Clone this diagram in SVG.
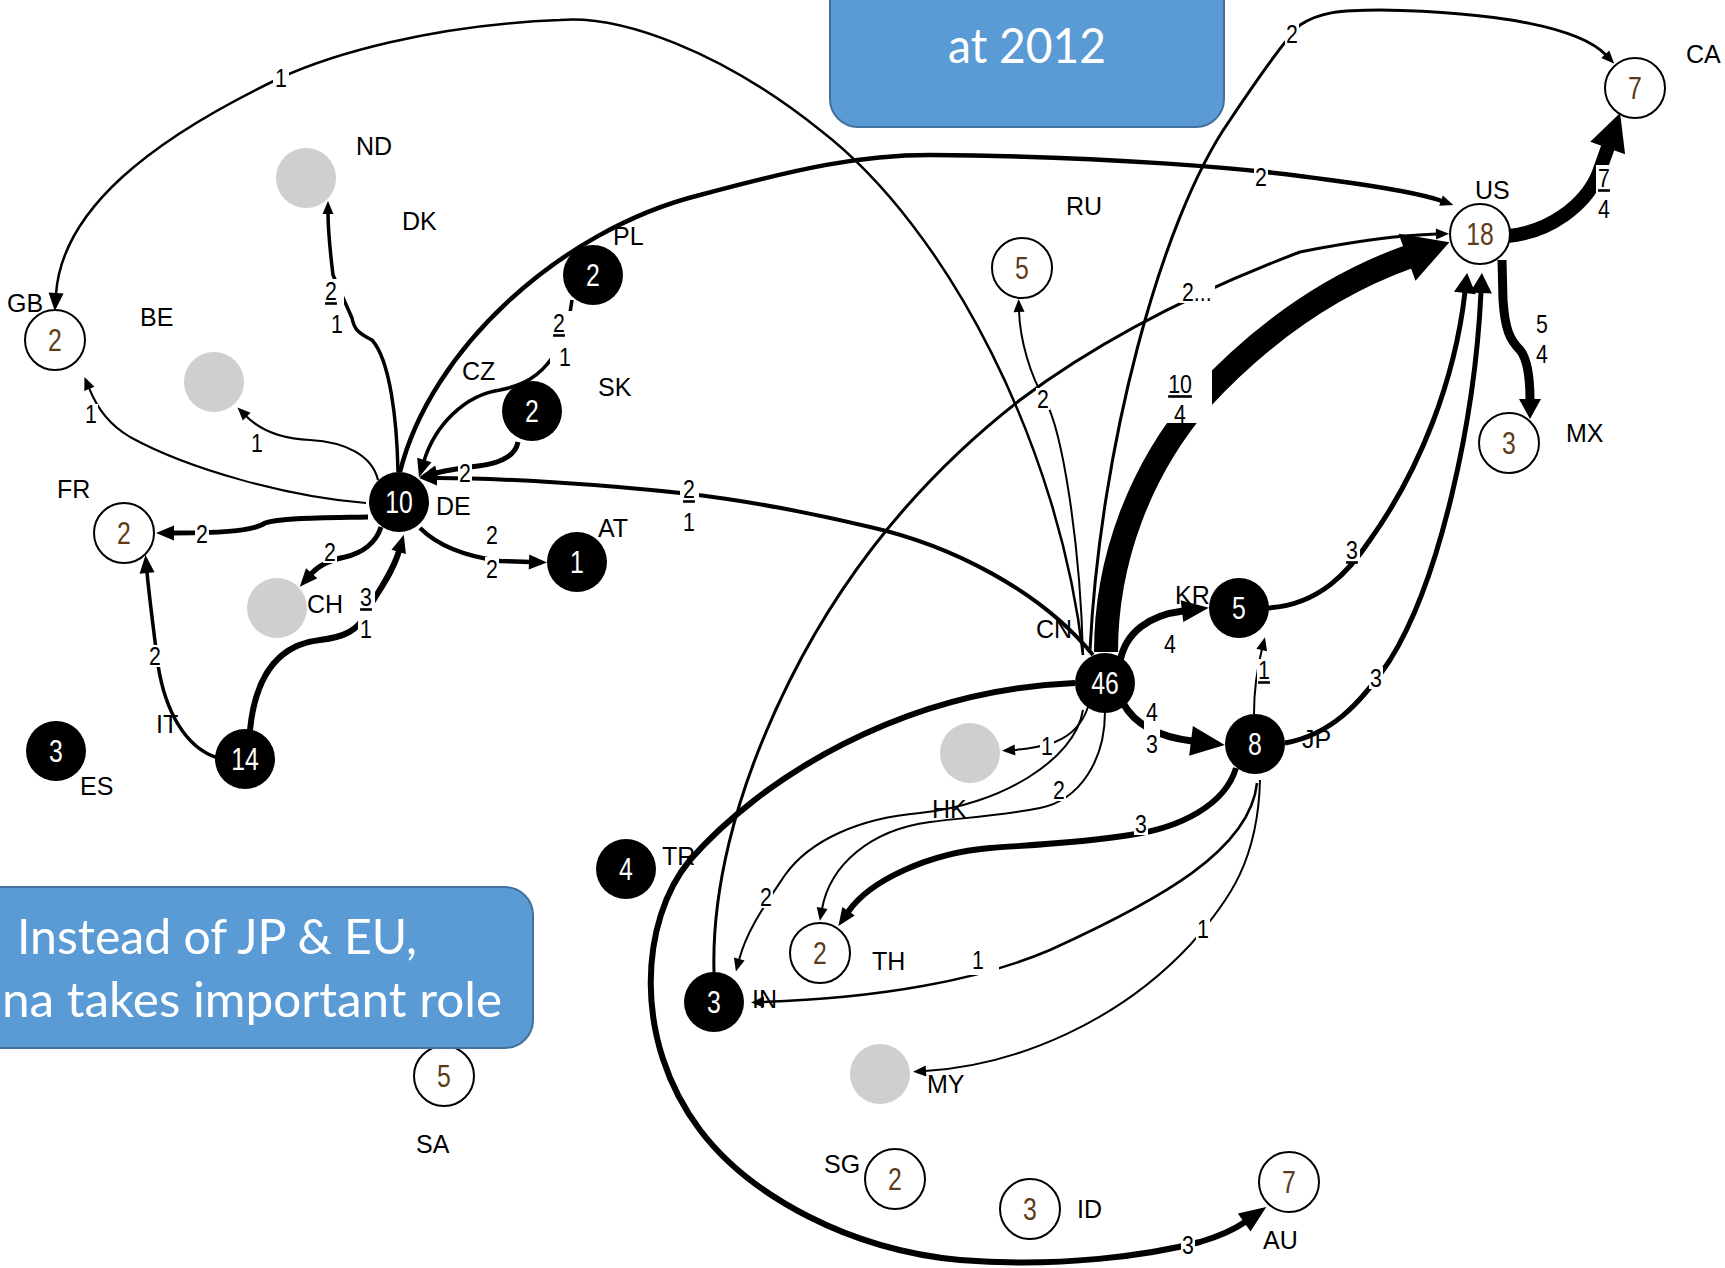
<svg xmlns="http://www.w3.org/2000/svg" width="1725" height="1268" viewBox="0 0 1725 1268">
<style>
.c{fill:none;stroke:#000;stroke-linecap:butt}
.bk circle{fill:#000}
.wh circle{fill:#fff;stroke:#000;stroke-width:2}
.gr circle{fill:#d0cfd0}
.num{font-family:"Liberation Sans",Arial,sans-serif;font-size:31px;text-anchor:middle}
.bk .num{fill:#fff}
.wh .num{fill:#5c3b1a}
.lab{font-family:"Liberation Sans",Arial,sans-serif;font-size:25px;fill:#000}
.el text{font-family:"Liberation Sans",Arial,sans-serif;font-size:26px;text-anchor:middle;fill:#000}
.el .u{text-decoration:underline}
.bg{fill:#fff}
.box{fill:#5b9bd5;stroke:#41719c;stroke-width:2}
.bt{font-family:Lato,"Open Sans",sans-serif;fill:#fff}
</style>
<defs>
<marker id="m1" markerUnits="userSpaceOnUse" markerWidth="13" markerHeight="11" refX="1" refY="5.5" orient="auto" overflow="visible"><path d="M0,0 L13,5.5 L0,11z"/></marker>
<marker id="m2" markerUnits="userSpaceOnUse" markerWidth="18" markerHeight="15" refX="1" refY="7.5" orient="auto" overflow="visible"><path d="M0,0 L18,7.5 L0,15z"/></marker>
<marker id="m3" markerUnits="userSpaceOnUse" markerWidth="20" markerHeight="22" refX="1" refY="11" orient="auto" overflow="visible"><path d="M0,0 L20,11 L0,22z"/></marker>
<marker id="m4" markerUnits="userSpaceOnUse" markerWidth="27" markerHeight="22" refX="1" refY="11" orient="auto" overflow="visible"><path d="M0,0 L27,11 L0,22z"/></marker>
<marker id="m5" markerUnits="userSpaceOnUse" markerWidth="34" markerHeight="30" refX="1" refY="15" orient="auto" overflow="visible"><path d="M0,0 L34,15 L0,30z"/></marker>
<marker id="m5b" markerUnits="userSpaceOnUse" markerWidth="37" markerHeight="37" refX="1" refY="18.5" orient="auto" overflow="visible"><path d="M0,0 L37,18.5 L0,37z"/></marker>
<marker id="m6" markerUnits="userSpaceOnUse" markerWidth="45" markerHeight="50" refX="1" refY="25" orient="auto" overflow="visible"><path d="M0,0 L45,25 L0,50z"/></marker>
</defs>
<rect width="1725" height="1268" fill="#fff"/>

<g id="connectors" class="c">
<path id="e-CN-GB" stroke-width="2.5" marker-end="url(#m2)" d="M 1083,655 C 1060,450 950,230 820,130 C 720,50 620,15 560,20 C 430,25 330,55 280,78 C 150,140 62,210 56,294"/>
<path id="e-DE-GB" stroke-width="2" marker-end="url(#m1)" d="M 366,503 C 290,497 190,470 130,437 C 110,425 98,410 89,388"/>
<path id="e-DE-BE" stroke-width="2.2" marker-end="url(#m1)" d="M 378,480 C 372,455 345,442 310,440 C 285,439 262,432 246,416"/>
<path id="e-DE-ND" stroke-width="3.5" marker-end="url(#m1)" d="M 398,472 C 397,420 390,360 372,340 C 360,334 354,330 352,318 L 333,275 C 330,250 328,230 328,213"/>
<path id="e-DE-FR" stroke-width="5" marker-end="url(#m2)" d="M 368,517 C 320,518 280,518 265,523 C 255,530 230,533 173,533"/>
<path id="e-DE-CH" stroke-width="5" marker-end="url(#m2)" d="M 381,527 C 376,543 362,553 345,557 C 330,560 318,566 311,574"/>
<path id="e-IT-DE" stroke-width="6" marker-end="url(#m2)" d="M 250,730 C 255,680 275,645 320,640 C 345,637 358,630 365,615 C 375,595 392,575 399,551"/>
<path id="e-IT-FR" stroke-width="3.5" marker-end="url(#m2)" d="M 218,758 C 185,748 165,710 158,665 C 153,625 149,595 147,572"/>
<path id="e-DE-AT" stroke-width="4.5" marker-end="url(#m2)" d="M 420,528 C 440,548 470,557 500,561 L 530,562"/>
<path id="e-CZ-DE" stroke-width="5" marker-end="url(#m2)" d="M 518,442 C 515,458 495,464 478,466 C 460,468 448,470 436,473"/>
<path id="e-PL-DE" stroke-width="3.5" marker-end="url(#m2)" d="M 572,300 C 568,330 560,350 552,358 C 540,375 525,385 500,390 C 465,395 435,425 424,461"/>
<path id="e-CN-DE" stroke-width="4" marker-end="url(#m2)" d="M 1093,655 C 1040,590 950,545 870,527 C 790,508 740,500 690,494 C 600,484 500,478 436,478"/>
<path id="e-DE-US" stroke-width="4.5" marker-end="url(#m1)" d="M 400,472 C 430,350 560,230 700,195 C 800,168 860,155 930,155 C 1100,156 1250,168 1330,180 C 1390,188 1425,195 1442,201"/>
<path id="e-CN-RU" stroke-width="2" marker-end="url(#m1)" d="M 1083,655 C 1080,540 1062,430 1045,400 C 1030,375 1020,340 1019,311"/>
<path id="e-CN-CA" stroke-width="3" marker-end="url(#m1)" d="M 1090,650 C 1100,450 1160,220 1230,120 C 1260,75 1285,40 1300,25 C 1320,12 1340,10 1380,10 C 1500,12 1580,28 1606,55"/>
<path id="e-CN-US" stroke-width="24" marker-end="url(#m6)" d="M 1106,652 C 1106,560 1140,470 1200,400 C 1260,335 1330,285 1408,257"/>
<path id="e-IN-US" stroke-width="3" marker-end="url(#m1)" d="M 714,972 C 712,900 730,800 790,680 C 850,560 930,470 1020,400 C 1100,340 1200,290 1300,252 C 1360,240 1405,235 1437,234"/>
<path id="e-CN-KR" stroke-width="7" marker-end="url(#m4)" d="M 1120,662 C 1125,632 1150,615 1183,611"/>
<path id="e-CN-JP" stroke-width="7" marker-end="url(#m5)" d="M 1123,703 C 1135,725 1160,737 1192,741"/>
<path id="e-JP-KR" stroke-width="2" marker-end="url(#m1)" d="M 1254,714 C 1254,690 1258,665 1262,649"/>
<path id="e-KR-US" stroke-width="5" marker-end="url(#m3)" d="M 1268,608 C 1320,605 1350,570 1370,540 C 1420,470 1455,380 1465,292"/>
<path id="e-JP-US" stroke-width="5" marker-end="url(#m3)" d="M 1285,743 C 1330,735 1360,705 1390,660 C 1440,580 1475,420 1481,292"/>
<path id="e-US-CA" stroke-width="14" marker-end="url(#m5b)" d="M 1508,236 C 1550,232 1585,205 1598,175 L 1608,147"/>
<path id="e-US-MX" stroke-width="9" marker-end="url(#m3)" d="M 1502,260 L 1503,300 C 1505,330 1510,340 1520,350 C 1528,360 1530,380 1530,400"/>
<path id="e-CN-HK" stroke-width="2" marker-end="url(#m1)" d="M 1088,707 C 1082,725 1070,736 1055,742 C 1040,747 1028,749 1014,750"/>
<path id="e-CN-IN" stroke-width="2" marker-end="url(#m1)" d="M 1083,710 C 1075,760 1000,805 920,813 C 860,818 810,840 785,875 C 765,905 747,930 739,960"/>
<path id="e-CN-TH" stroke-width="2" marker-end="url(#m1)" d="M 1105,712 C 1105,760 1080,800 1040,808 C 1000,816 960,818 930,822 C 870,830 830,865 822,909"/>
<path id="e-JP-TH" stroke-width="6" marker-end="url(#m2)" d="M 1236,768 C 1225,805 1180,828 1130,835 C 1080,843 1030,845 990,848 C 930,853 870,880 848,912"/>
<path id="e-JP-IN" stroke-width="2.5" marker-end="url(#m1)" d="M 1257,783 C 1250,850 1160,900 1050,950 C 980,980 880,998 763,1002"/>
<path id="e-JP-MY" stroke-width="2" marker-end="url(#m1)" d="M 1260,780 C 1258,860 1230,900 1190,945 C 1120,1020 1020,1065 925,1071"/>
<path id="e-CN-AU" stroke-width="6" marker-end="url(#m4)" d="M 1075,683 C 900,690 760,780 690,860 C 640,920 632,1040 700,1130 C 750,1196 850,1250 960,1260 C 1060,1268 1150,1255 1200,1242 C 1220,1236 1235,1229 1245,1222"/>
</g>

<g id="edge-labels" class="el">
<rect class="bg" x="273" y="67" width="16" height="22"/><text transform="translate(281 87) scale(.82 1)">1</text>
<rect class="bg" x="84" y="404" width="14" height="22"/><text transform="translate(91 423) scale(.82 1)">1</text>
<rect class="bg" x="250" y="433" width="14" height="22"/><text transform="translate(257 452) scale(.82 1)">1</text>
<rect class="bg" x="322" y="279" width="22" height="57"/><text class="u" transform="translate(331 300) scale(.82 1)">2</text><text transform="translate(337 333) scale(.82 1)">1</text>
<rect class="bg" x="195" y="523" width="14" height="22"/><text transform="translate(202 543) scale(.82 1)">2</text>
<rect class="bg" x="323" y="541" width="14" height="22"/><text transform="translate(330 561) scale(.82 1)">2</text>
<rect class="bg" x="358" y="585" width="17" height="55"/><text class="u" transform="translate(366 606) scale(.82 1)">3</text><text transform="translate(366 638) scale(.82 1)">1</text>
<rect class="bg" x="148" y="645" width="14" height="22"/><text transform="translate(155 665) scale(.82 1)">2</text>
<text transform="translate(492 544) scale(.82 1)">2</text><rect class="bg" x="485" y="557" width="14" height="22"/><text transform="translate(492 578) scale(.82 1)">2</text>
<rect class="bg" x="458" y="462" width="14" height="22"/><text transform="translate(465 482) scale(.82 1)">2</text>
<rect class="bg" x="550" y="311" width="22" height="57"/><text class="u" transform="translate(559 332) scale(.82 1)">2</text><text transform="translate(565 366) scale(.82 1)">1</text>
<rect class="bg" x="680" y="477" width="19" height="56"/><text class="u" transform="translate(689 498) scale(.82 1)">2</text><text transform="translate(689 531) scale(.82 1)">1</text>
<rect class="bg" x="1254" y="166" width="14" height="22"/><text transform="translate(1261 186) scale(.82 1)">2</text>
<rect class="bg" x="1036" y="388" width="14" height="22"/><text transform="translate(1043 408) scale(.82 1)">2</text>
<rect class="bg" x="1285" y="23" width="14" height="22"/><text transform="translate(1292 43) scale(.82 1)">2</text>
<rect class="bg" x="1160" y="368" width="52" height="55"/><text class="u" transform="translate(1180 393) scale(.82 1)">10</text><text transform="translate(1180 423) scale(.82 1)">4</text>
<rect class="bg" x="1179" y="281" width="36" height="22"/><text transform="translate(1182 301) scale(.82 1)" style="text-anchor:start">2...</text>
<text transform="translate(1170 653) scale(.82 1)">4</text>
<rect class="bg" x="1144" y="701" width="16" height="54"/><text transform="translate(1152 721) scale(.82 1)">4</text><text transform="translate(1152 753) scale(.82 1)">3</text>
<rect class="bg" x="1257" y="659" width="14" height="24"/><text class="u" transform="translate(1264 679) scale(.82 1)">1</text>
<rect class="bg" x="1345" y="539" width="15" height="24"/><text class="u" transform="translate(1352 559) scale(.82 1)">3</text>
<rect class="bg" x="1369" y="667" width="14" height="22"/><text transform="translate(1376 687) scale(.82 1)">3</text>
<rect class="bg" x="1596" y="165" width="17" height="56"/><text class="u" transform="translate(1604 187) scale(.82 1)">7</text><text transform="translate(1604 218) scale(.82 1)">4</text>
<text transform="translate(1542 333) scale(.82 1)">5</text><text transform="translate(1542 363) scale(.82 1)">4</text>
<rect class="bg" x="1040" y="735" width="14" height="22"/><text transform="translate(1047 755) scale(.82 1)">1</text>
<rect class="bg" x="759" y="886" width="14" height="22"/><text transform="translate(766 906) scale(.82 1)">2</text>
<rect class="bg" x="1052" y="779" width="14" height="22"/><text transform="translate(1059 799) scale(.82 1)">2</text>
<rect class="bg" x="1134" y="813" width="14" height="22"/><text transform="translate(1141 833) scale(.82 1)">3</text>
<rect class="bg" x="969" y="949" width="30" height="26"/><text transform="translate(978 969) scale(.82 1)">1</text>
<rect class="bg" x="1196" y="918" width="14" height="22"/><text transform="translate(1203 938) scale(.82 1)">1</text>
<rect class="bg" x="1181" y="1234" width="14" height="22"/><text transform="translate(1188 1254) scale(.82 1)">3</text>
</g>

<g id="nodes">
<g id="n-GB" class="wh"><circle cx="55" cy="340" r="30"/><text class="num" transform="translate(55 351) scale(.8 1)">2</text><text class="lab" x="7" y="312">GB</text></g>
<g id="n-ND" class="gr"><circle cx="306" cy="178" r="30"/><text class="lab" x="356" y="155">ND</text></g>
<g id="n-DK"><text class="lab" x="402" y="230">DK</text></g>
<g id="n-BE" class="gr"><circle cx="214" cy="382" r="30"/><text class="lab" x="140" y="326">BE</text></g>
<g id="n-PL" class="bk"><circle cx="593" cy="275" r="30"/><text class="num" transform="translate(593 286) scale(.8 1)">2</text><text class="lab" x="613" y="245">PL</text></g>
<g id="n-CZ" class="bk"><circle cx="532" cy="411" r="30"/><text class="num" transform="translate(532 422) scale(.8 1)">2</text><text class="lab" x="462" y="380">CZ</text></g>
<g id="n-SK"><text class="lab" x="598" y="396">SK</text></g>
<g id="n-DE" class="bk"><circle cx="399" cy="502" r="30"/><text class="num" transform="translate(399 513) scale(.8 1)">10</text><text class="lab" x="436" y="515">DE</text></g>
<g id="n-AT" class="bk"><circle cx="577" cy="562" r="30"/><text class="num" transform="translate(577 573) scale(.8 1)">1</text><text class="lab" x="598" y="537">AT</text></g>
<g id="n-FR" class="wh"><circle cx="124" cy="533" r="30"/><text class="num" transform="translate(124 544) scale(.8 1)">2</text><text class="lab" x="57" y="498">FR</text></g>
<g id="n-CH" class="gr"><circle cx="277" cy="608" r="30"/><text class="lab" x="307" y="613">CH</text></g>
<g id="n-IT" class="bk"><circle cx="245" cy="759" r="30"/><text class="num" transform="translate(245 770) scale(.8 1)">14</text><text class="lab" x="156" y="733">IT</text></g>
<g id="n-ES" class="bk"><circle cx="56" cy="751" r="30"/><text class="num" transform="translate(56 762) scale(.8 1)">3</text><text class="lab" x="80" y="795">ES</text></g>
<g id="n-RU" class="wh"><circle cx="1022" cy="268" r="30"/><text class="num" transform="translate(1022 279) scale(.8 1)">5</text><text class="lab" x="1066" y="215">RU</text></g>
<g id="n-US" class="wh"><circle cx="1480" cy="234" r="30"/><text class="num" transform="translate(1480 245) scale(.8 1)">18</text><text class="lab" x="1475" y="199">US</text></g>
<g id="n-CA" class="wh"><circle cx="1635" cy="88" r="30"/><text class="num" transform="translate(1635 99) scale(.8 1)">7</text><text class="lab" x="1686" y="63">CA</text></g>
<g id="n-MX" class="wh"><circle cx="1509" cy="443" r="30"/><text class="num" transform="translate(1509 454) scale(.8 1)">3</text><text class="lab" x="1566" y="442">MX</text></g>
<g id="n-KR" class="bk"><circle cx="1239" cy="608" r="30"/><text class="num" transform="translate(1239 619) scale(.8 1)">5</text><text class="lab" x="1175" y="604">KR</text></g>
<g id="n-CN" class="bk"><circle cx="1105" cy="683" r="30"/><text class="num" transform="translate(1105 694) scale(.8 1)">46</text><text class="lab" x="1036" y="638">CN</text></g>
<g id="n-JP" class="bk"><circle cx="1255" cy="744" r="30"/><text class="num" transform="translate(1255 755) scale(.8 1)">8</text><text class="lab" x="1302" y="748">JP</text></g>
<g id="n-HK" class="gr"><circle cx="970" cy="753" r="30"/><text class="lab" x="932" y="818">HK</text></g>
<g id="n-TR" class="bk"><circle cx="626" cy="869" r="30"/><text class="num" transform="translate(626 880) scale(.8 1)">4</text><text class="lab" x="662" y="865">TR</text></g>
<g id="n-TH" class="wh"><circle cx="820" cy="953" r="30"/><text class="num" transform="translate(820 964) scale(.8 1)">2</text><text class="lab" x="872" y="970">TH</text></g>
<g id="n-IN" class="bk"><circle cx="714" cy="1002" r="30"/><text class="num" transform="translate(714 1013) scale(.8 1)">3</text><text class="lab" x="752" y="1008">IN</text></g>
<g id="n-MY" class="gr"><circle cx="880" cy="1074" r="30"/><text class="lab" x="927" y="1093">MY</text></g>
<g id="n-SG" class="wh"><circle cx="895" cy="1179" r="30"/><text class="num" transform="translate(895 1190) scale(.8 1)">2</text><text class="lab" x="824" y="1173">SG</text></g>
<g id="n-ID" class="wh"><circle cx="1030" cy="1209" r="30"/><text class="num" transform="translate(1030 1220) scale(.8 1)">3</text><text class="lab" x="1077" y="1218">ID</text></g>
<g id="n-AU" class="wh"><circle cx="1289" cy="1182" r="30"/><text class="num" transform="translate(1289 1193) scale(.8 1)">7</text><text class="lab" x="1263" y="1249">AU</text></g>
<g id="n-SA" class="wh"><circle cx="444" cy="1076" r="30"/><text class="num" transform="translate(444 1087) scale(.8 1)">5</text><text class="lab" x="416" y="1153">SA</text></g>
</g>

<g id="callouts">
<g id="box-top"><rect class="box" x="830" y="-30" width="394" height="157" rx="28"/><text class="bt" x="1027" y="63" font-size="48" text-anchor="middle" textLength="158" lengthAdjust="spacingAndGlyphs">at 2012</text></g>
<g id="box-bottom"><rect class="box" x="-40" y="887" width="573" height="161" rx="28"/><text class="bt" x="17" y="954" font-size="48" textLength="400" lengthAdjust="spacingAndGlyphs">Instead of JP &amp; EU,</text><text class="bt" x="2" y="1017" font-size="48" textLength="500" lengthAdjust="spacingAndGlyphs">na takes important role</text></g>
</g>
</svg>
